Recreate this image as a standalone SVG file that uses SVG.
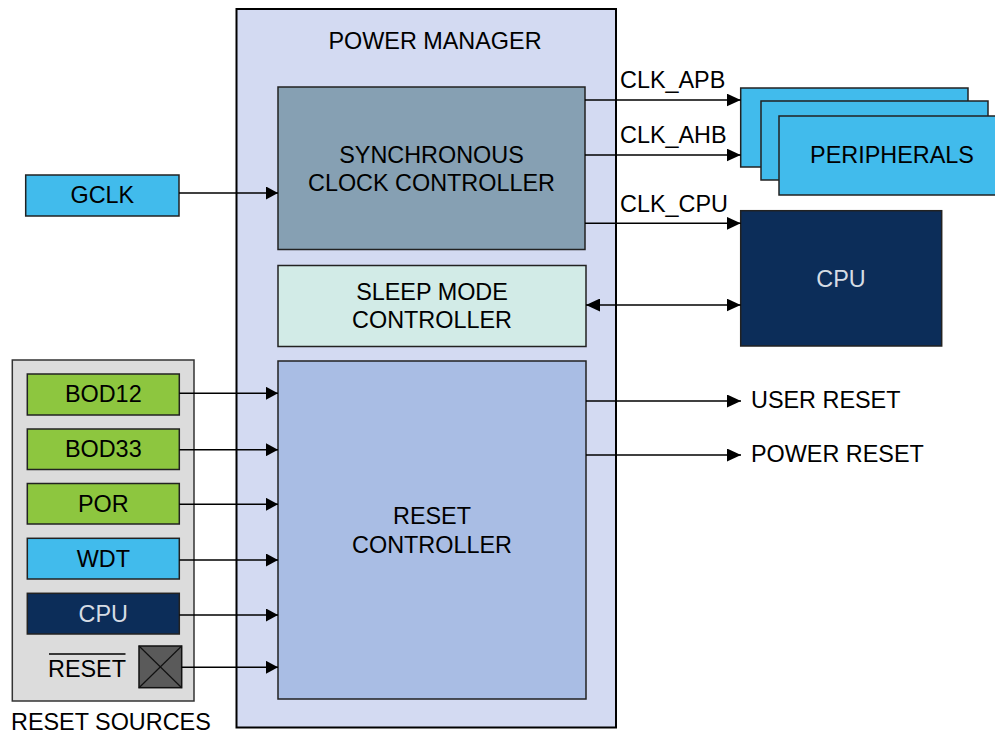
<svg xmlns="http://www.w3.org/2000/svg" width="995" height="734" viewBox="0 0 995 734">
<defs>
<marker id="ah" markerWidth="12" markerHeight="13" refX="12" refY="6.5" orient="auto" markerUnits="userSpaceOnUse"><path d="M0,0 L12,6.5 L0,13 Z" fill="#000"/></marker>
<marker id="ahl" markerWidth="14" markerHeight="13" refX="14" refY="6.5" orient="auto" markerUnits="userSpaceOnUse"><path d="M0,0 L14,6.5 L0,13 Z" fill="#000"/></marker>
<marker id="ahs" markerWidth="14" markerHeight="13" refX="14" refY="6.5" orient="auto-start-reverse" markerUnits="userSpaceOnUse"><path d="M0,0 L14,6.5 L0,13 Z" fill="#000"/></marker>
</defs>
<style>
text{font-family:"Liberation Sans",Arial,sans-serif;font-size:23.4px;fill:#000}
.c{text-anchor:middle}
.lt{fill:#d6dce4}
.box{stroke:#222;stroke-width:1.5}
.conn line{stroke:#000;stroke-width:1.5}
</style>
<rect width="995" height="734" fill="#fff"/>
<g id="power-manager">
<rect x="236.5" y="9" width="379.5" height="718.5" fill="#d3daf2" stroke="#000" stroke-width="2"/>
<text class="c" x="435" y="49">POWER MANAGER</text>
</g>
<g id="sync-clock">
<rect class="box" x="278" y="87" width="307" height="162.5" fill="#86a0b3"/>
<text class="c" x="431.5" y="163.3">SYNCHRONOUS</text>
<text class="c" x="431.5" y="190.7">CLOCK CONTROLLER</text>
</g>
<g id="sleep-mode">
<rect class="box" x="278" y="265.5" width="308" height="81" fill="#d2ebe7"/>
<text class="c" x="432" y="300">SLEEP MODE</text>
<text class="c" x="432" y="328">CONTROLLER</text>
</g>
<g id="reset-controller">
<rect class="box" x="278" y="361" width="308" height="338" fill="#a9bde4"/>
<text class="c" x="432" y="524">RESET</text>
<text class="c" x="432" y="552.7">CONTROLLER</text>
</g>
<g id="gclk">
<rect class="box" x="25.7" y="175" width="153.3" height="41" fill="#41bbec"/>
<text class="c" x="102.3" y="203">GCLK</text>
</g>
<g id="peripherals">
<rect class="box" x="740.7" y="88" width="227.3" height="79" fill="#41bbec"/>
<rect class="box" x="761" y="101" width="227" height="79" fill="#41bbec"/>
<rect class="box" x="779" y="116" width="220" height="79" fill="#41bbec"/>
<text class="c" x="892" y="163.3">PERIPHERALS</text>
</g>
<g id="cpu-main">
<rect class="box" x="740.7" y="210.7" width="201" height="135.3" fill="#0c2d59"/>
<text class="c lt" x="841" y="286.7">CPU</text>
</g>
<g id="reset-sources">
<rect x="12.3" y="360" width="181.7" height="341" fill="#dcdcdc" stroke="#333" stroke-width="1.5"/>
<text x="11" y="730">RESET SOURCES</text>
</g>
<g id="bod12">
<rect class="box" x="27.3" y="374" width="152" height="41" fill="#8dc63f"/>
<text class="c" x="103.3" y="402.3">BOD12</text>
</g>
<g id="bod33">
<rect class="box" x="27.3" y="429" width="152" height="40.5" fill="#8dc63f"/>
<text class="c" x="103.3" y="457.3">BOD33</text>
</g>
<g id="por">
<rect class="box" x="27.3" y="483.5" width="152" height="40.5" fill="#8dc63f"/>
<text class="c" x="103.3" y="512">POR</text>
</g>
<g id="wdt">
<rect class="box" x="27.3" y="538.3" width="152" height="40.7" fill="#41bbec"/>
<text class="c" x="103.3" y="566.7">WDT</text>
</g>
<g id="cpu-src">
<rect class="box" x="27.3" y="593.3" width="152" height="40.7" fill="#0c2d59"/>
<text class="c lt" x="103.3" y="621.7">CPU</text>
</g>
<g id="reset-pin">
<text class="c" x="87" y="676.7">RESET</text>
<line x1="49" y1="654" x2="125.5" y2="654" stroke="#000" stroke-width="1.3"/>
<rect x="139" y="646" width="42.7" height="41.7" fill="#5a5a5a" stroke="#111" stroke-width="1.5"/>
<line x1="139" y1="646" x2="181.7" y2="687.7" stroke="#111" stroke-width="1.2"/>
<line x1="181.7" y1="646" x2="139" y2="687.7" stroke="#111" stroke-width="1.2"/>
</g>
<g id="connectors" class="conn">
<line x1="179" y1="193" x2="278" y2="193" marker-end="url(#ah)"/>
<line x1="585" y1="100" x2="740.7" y2="100" marker-end="url(#ahl)"/>
<line x1="585" y1="155" x2="740.7" y2="155" marker-end="url(#ahl)"/>
<line x1="585" y1="223.3" x2="740.7" y2="223.3" marker-end="url(#ahl)"/>
<line x1="586" y1="305" x2="740.7" y2="305" marker-start="url(#ahs)" marker-end="url(#ahs)"/>
<line x1="586" y1="401" x2="741" y2="401" marker-end="url(#ahl)"/>
<line x1="586" y1="455" x2="741" y2="455" marker-end="url(#ahl)"/>
<line x1="179.3" y1="393.3" x2="278" y2="393.3" marker-end="url(#ah)"/>
<line x1="179.3" y1="449.7" x2="278" y2="449.7" marker-end="url(#ah)"/>
<line x1="179.3" y1="504.3" x2="278" y2="504.3" marker-end="url(#ah)"/>
<line x1="179.3" y1="560" x2="278" y2="560" marker-end="url(#ah)"/>
<line x1="179.3" y1="615" x2="278" y2="615" marker-end="url(#ah)"/>
<line x1="181.7" y1="667.3" x2="278" y2="667.3" marker-end="url(#ah)"/>
</g>
<text x="620" y="88.3">CLK_APB</text>
<text x="620" y="143.3">CLK_AHB</text>
<text x="620" y="211.7">CLK_CPU</text>
<text x="751" y="408.3">USER RESET</text>
<text x="751" y="461.7">POWER RESET</text>
</svg>
